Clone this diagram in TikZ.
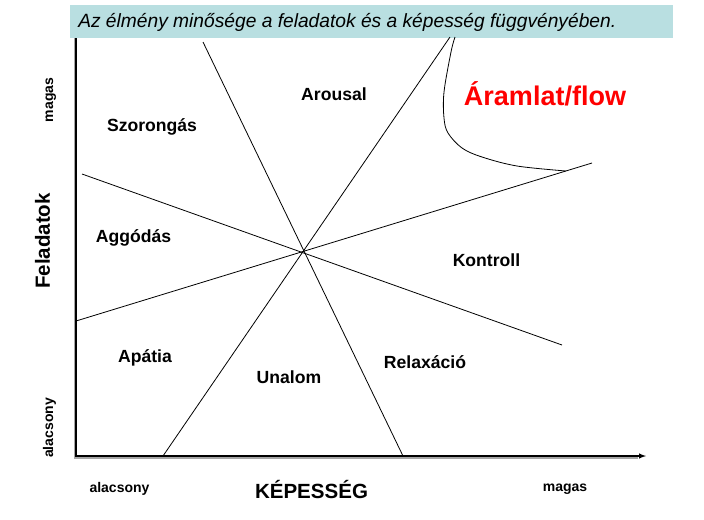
\documentclass[tikz,border=0pt]{standalone}
\usepackage{fontspec}
\setmainfont{Liberation Sans}
\usetikzlibrary{positioning, calc, arrows}
\definecolor{titleblue}{RGB}{185,223,225}

\begin{document}
\begin{tikzpicture}[x=0.75pt, y=-0.75pt, every node/.style={inner sep=0pt},
  region/.style={anchor=base, font=\bfseries\fontsize{13.2}{15}\selectfont},
  axisend/.style={anchor=base, font=\bfseries\fontsize{10.5}{12}\selectfont},
  axisname/.style={anchor=base, font=\bfseries\fontsize{15.4}{18}\selectfont}]

\useasboundingbox (0,0) rectangle (704,519);

%//title bar
\node (titlebar) [fill=titleblue, anchor=north west, minimum width=452.25pt, minimum height=24.75pt] at (70,5) {};
\node (title) [anchor=base west, font=\itshape\fontsize{14.4}{16}\selectfont] at (78,27) {Az élmény minősége a feladatok és a képesség függvényében.};

%//axes, with a grey shadow
\coordinate (origin) at (76,456);
\coordinate (ytop) at (76,38);
\coordinate (xend) at (646,456);
\draw[gray!70, line width=1.6pt] ($(ytop)+(-1.2,0)$) -- ($(origin)+(-1.2,2)$) -- ($(xend)+(-8,2)$);
\draw[line width=0.8pt, -latex] (ytop) -- (origin) -- (xend);

%//the four lines through the centre
\foreach \xa/\ya/\xb/\yb in {203/42/403/456, 450/37/163/456, 82/174/562/345, 76/321/592/163}
\draw[line width=0.6pt] (\xa,\ya) -- (\xb,\yb);

%//flow border
\draw[line width=0.6pt] plot[smooth, tension=0.55] coordinates {(455,37) (451,52) (444,92) (444,118) (448,133) (462,148) (482,157) (517,166) (566,171)};

%//regions
\foreach \x/\y/\nm/\txt in {334/100.7/arousal/Arousal, 152/131.7/szorongas/Szorongás, 133.5/242.7/aggodas/Aggódás, 486.5/266.7/kontroll/Kontroll, 145/362.7/apatia/Apátia, 289/383.3/unalom/Unalom, 425/368.3/relaxacio/Relaxáció}
\node (\nm) [region] at (\x,\y) {\txt};

\node (flow) [anchor=base, text=red, font=\bfseries\fontsize{20.25}{24}\selectfont] at (545,105) {Áramlat/flow};

%//axis labels
\node (xlow) [axisend] at (119.5,492) {alacsony};
\node (xname) [axisname] at (311.5,498) {KÉPESSÉG};
\node (xhigh) [axisend] at (565,491) {magas};

\node (yhigh) [axisend, rotate=90] at (53,100) {magas};
\node (yname) [axisname, rotate=90] at (50,241) {Feladatok};
\node (ylow) [axisend, rotate=90] at (53,428) {alacsony};
\end{tikzpicture}
\end{document}
